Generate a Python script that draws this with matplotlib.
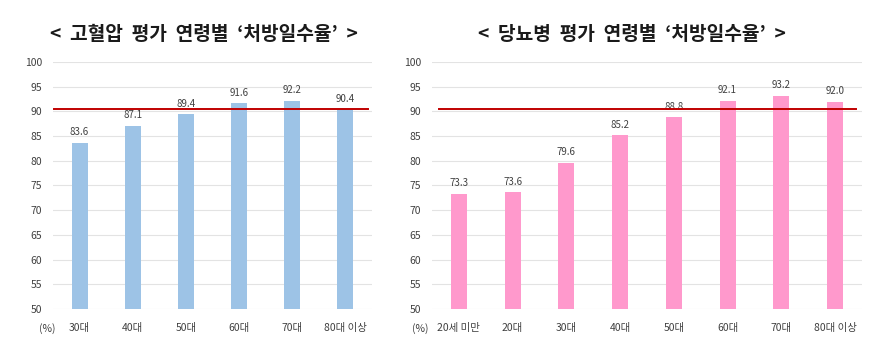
import numpy as np
import matplotlib.pyplot as plt

plt.rcParams['font.family'] = ['Noto Sans CJK KR', 'DejaVu Sans']

# 고혈압
bp_labels = ['30대', '40대', '50대', '60대', '70대', '80대 이상']
bp_values = [83.6, 87.1, 89.4, 91.6, 92.2, 90.4]
# 당뇨병
dm_labels = ['20세 미만', '20대', '30대', '40대', '50대', '60대', '70대', '80대 이상']
dm_values = [73.3, 73.6, 79.6, 85.2, 88.8, 92.1, 93.2, 92.0]
target = 90.5

fig = plt.figure(figsize=(8.89, 3.64), dpi=100)
ax1 = fig.add_axes([53/889, 55/364, 319/889, 247/364])
ax2 = fig.add_axes([432/889, 55/364, 430/889, 247/364])


def draw(ax, labels, values, color, line_span, pct_dx):
    x = np.arange(len(labels))
    bars = ax.bar(x, values, width=0.3, color=color, zorder=2)
    for b, v in zip(bars, values):
        ax.annotate(f'{v:.1f}', (b.get_x() + b.get_width() / 2, v),
                    xytext=(0, 4), textcoords='offset points',
                    ha='center', va='bottom', fontsize=7, color='#404040')
    ax.axhline(target, xmin=line_span[0], xmax=line_span[1], color='#C00000', linewidth=1.4, zorder=3)
    ax.set_ylim(50, 100)
    ax.set_xlim(-0.5, len(labels) - 0.5)
    ax.set_yticks(range(50, 101, 5))
    ax.set_xticks(x)
    ax.set_xticklabels(labels)
    ax.tick_params(axis='both', length=0, labelsize=7.5, colors='#404040')
    ax.tick_params(axis='y', pad=8)
    ax.tick_params(axis='x', pad=10)
    ax.grid(axis='y', color='#E3E3E3', linewidth=0.8, zorder=0)
    for s in ax.spines.values():
        s.set_visible(False)
    ax.annotate('(%)', (0, 0), xycoords='axes fraction', xytext=(pct_dx, -20),
                textcoords='offset pixels', ha='center', va='center',
                fontsize=7.5, color='#404040')


draw(ax1, bp_labels, bp_values, '#9DC3E6', (0.003, 0.987), -6)
draw(ax2, dm_labels, dm_values, '#FF99CC', (0.016, 0.986), -12)

fig.text(204/889, 1 - 34/364, '<  고혈압  평가  연령별  ‘처방일수율’  >', ha='center', va='center',
         fontsize=13.8, fontweight='bold', color='#1a1a1a')
fig.text(632/889, 1 - 34/364, '<  당뇨병  평가  연령별  ‘처방일수율’  >', ha='center', va='center',
         fontsize=13.8, fontweight='bold', color='#1a1a1a')

plt.savefig('out.png', dpi=100)
